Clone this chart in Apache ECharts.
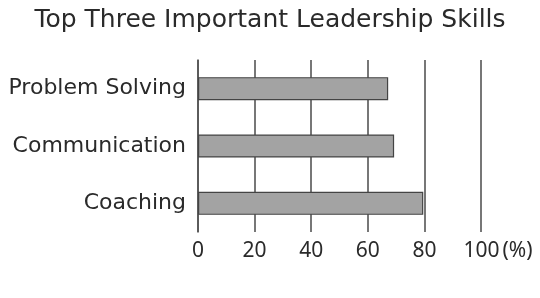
<!DOCTYPE html>
<html>
<head>
<meta charset="utf-8">
<script src="https://cdn.jsdelivr.net/npm/echarts@6/dist/echarts.min.js"></script>
<style>html,body{margin:0;padding:0;background:#fff;}#c{width:540px;height:298px;}</style>
</head>
<body>
<div id="c"></div>
<script>
const titleText = 'Top Three Important Leadership Skills';
const categories = ['Coaching', 'Communication', 'Problem Solving'];
const values = [79.6, 69.3, 67.2];
const tickMin = 0, tickMax = 100, tickStep = 20;
const unitLabel = '(%)';

const chart = echarts.init(document.getElementById('c'), null, {renderer: 'canvas'});
chart.setOption({
  animation: false,
  backgroundColor: '#fff',
  title: {
    text: titleText,
    left: 'center',
    top: 3,
    textStyle: {fontFamily: '"DejaVu Sans"', fontSize: 25, fontWeight: 'normal', color: '#2a2a2a'}
  },
  grid: {left: 198, right: 59, top: 60, bottom: 66, containLabel: false},
  xAxis: {
    type: 'value', min: tickMin, max: tickMax, interval: tickStep,
    axisLine: {show: false},
    axisTick: {show: false},
    splitLine: {show: true, lineStyle: {color: '#555', width: 1.6}},
    axisLabel: {
      margin: 9,
      fontFamily: 'Noto Sans', fontSize: 21, color: '#2a2a2a',
      formatter: function (v) { return v === tickMax ? '{p|}' + v + '{u|' + unitLabel + '}' : String(v); },
      rich: {
        p: {width: 34, fontSize: 21, fontFamily: 'Noto Sans'},
        u: {padding: [0, 0, 0, 3], fontSize: 21, fontFamily: 'Noto Sans', color: '#2a2a2a'}
      }
    }
  },
  yAxis: {
    type: 'category', data: categories,
    axisLine: {show: true, lineStyle: {color: '#555', width: 1.6}},
    axisTick: {show: false},
    axisLabel: {margin: 12, fontFamily: '"DejaVu Sans"', fontSize: 22, color: '#2a2a2a'}
  },
  series: [{
    type: 'bar', data: values, barWidth: 23,
    itemStyle: {color: '#a3a3a3', borderColor: '#444', borderWidth: 1.2}
  }]
});
</script>
</body>
</html>
